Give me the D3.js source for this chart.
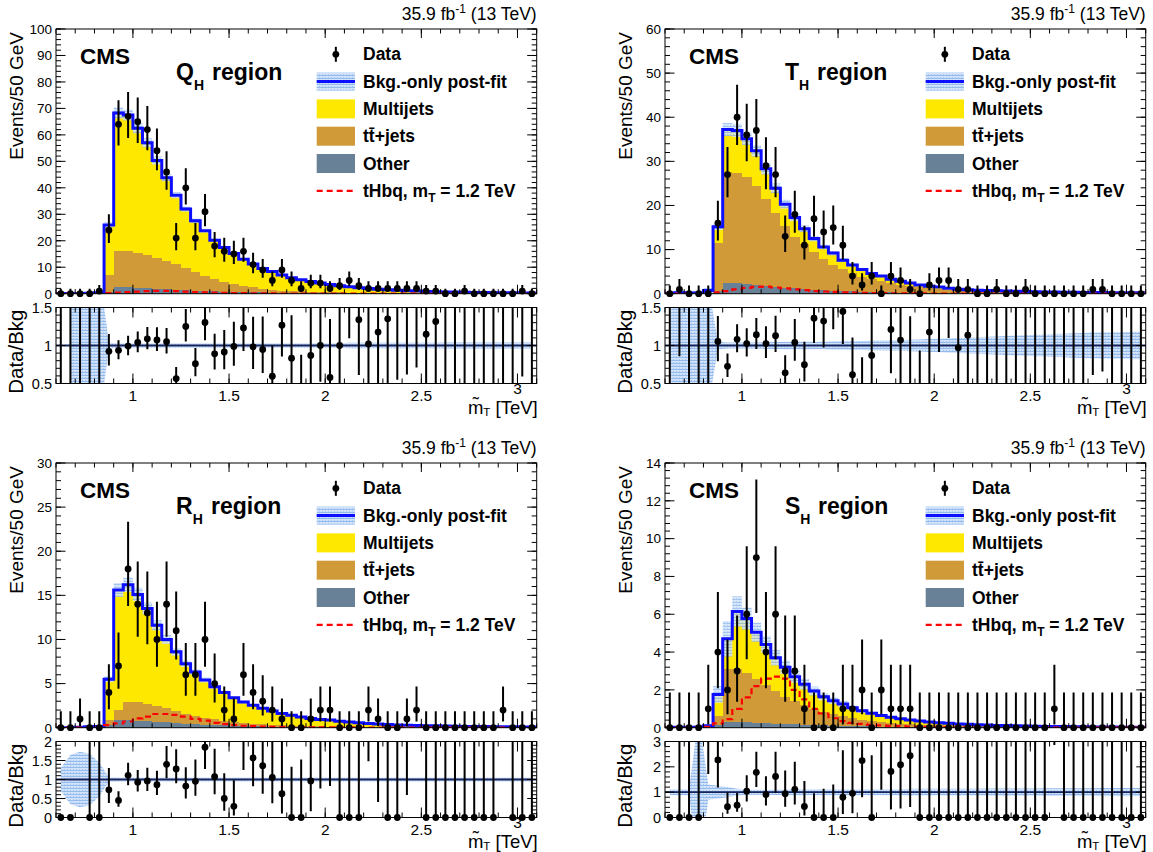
<!DOCTYPE html>
<html><head><meta charset="utf-8">
<script src="https://cdn.jsdelivr.net/npm/d3@7"></script>
<style>
body{margin:0;background:#fff;}
text{font-family:"Liberation Sans",Arial,Helvetica,sans-serif;fill:#000;}
</style></head>
<body><svg id="c" width="1153" height="852"></svg>
<script>
// ---------------- data ----------------
const binLow = 0.6, binWidth = 0.05, nBins = 50;
const xTickLabels = ["1", "1.5", "2", "2.5", "3"];
const legendLabels = ["Data", "Bkg.-only post-fit", "Multijets", "tt\u0304+jets", "Other", "tHbq, m"];

// Q_H region
const qhData = [0,0,0,0,1, 24,64,67,65,62, 54,46,21,40,21, 31,18,16,15,16, 11,9,5,9,5, 2,4,4,2,3, 5,3,2,2,2, 2,2,2,1,1, 0,0,1,0,0, 0,0,0,1,0];
const qhOther = [0,0,0,0,0.05, 0.8,2.6,2.5,2.3,2.1, 1.9,1.7,1.5,1.35,1.2, 1.05,0.92,0.8,0.7,0.62, 0.54,0.47,0.41,0.36,0.32, 0.28,0.25,0.22,0.2,0.18, 0.16,0.14,0.12,0.11,0.1, 0.09,0.08,0.07,0.06,0.05, 0.05,0.04,0.04,0.03,0.03, 0.03,0.02,0.02,0.02,0.02];
const qhTtbar = [0,0,0,0,0.1, 6.3,13.7,13.5,13.0,12.4, 11.7,10.8,9.6,8.45,7.1, 5.75,4.78,3.7,3.0,2.38, 1.86,1.43,1.09,0.84,0.68, 0.57,0.5,0.43,0.35,0.3, 0.26,0.23,0.2,0.17,0.15, 0.13,0.12,0.1,0.09,0.08, 0.07,0.07,0.06,0.06,0.05, 0.04,0.05,0.04,0.03,0.03];
const qhMultijets = [0.05,0.08,0.1,0.15,0.25, 18.9,52.0,51.5,47.2,42.5, 36.7,31.3,26.1,22.2,19.3, 17.0,14.5,13.0,11.5,10.0, 8.8,7.6,6.9,5.9,5.0, 4.45,3.85,3.35,2.9,2.52, 2.18,1.87,1.64,1.42,1.23, 1.08,0.95,0.83,0.72,0.63, 0.56,0.49,0.44,0.39,0.35, 0.32,0.28,0.26,0.24,0.21];
const qhSignal = [0,0,0,0,0.05, 0.2,0.4,0.6,0.8,0.95, 1.05,1.05,0.95,0.8,0.65, 0.5,0.4,0.32,0.26,0.2, 0.16,0.13,0.1,0.08,0.07, 0.06,0.05,0.04,0.04,0.03, 0.03,0.02,0.02,0.02,0.02, 0.01,0.01,0.01,0.01,0.01, 0.01,0.01,0.01,0.01,0.01, 0.01,0.01,0.01,0.01,0.01];
const qhRelUnc = [0,2,2,2,1, 0.035,0.03,0.03,0.03,0.03, 0.03,0.03,0.03,0.03,0.03, 0.03,0.03,0.03,0.03,0.03, 0.03,0.03,0.03,0.03,0.03, 0.03,0.03,0.03,0.03,0.03, 0.035,0.035,0.035,0.035,0.035, 0.035,0.035,0.035,0.035,0.035, 0.04,0.04,0.04,0.04,0.04, 0.04,0.04,0.04,0.04,0.04];

// T_H region
const thData = [0,1,0,0,0, 16,27,40,36,37, 29,27,13,18,11, 17,14,15,11,4, 2,4,0,4,3, 1,0,2,3,3, 1,1,0,0,1, 0,0,1,0,0, 0,0,0,0,1, 1,0,0,0,0];
const thOther = [0,0,0,0,0.05, 0.7,2.5,2.4,2.2,2.0, 1.8,1.6,1.4,1.2,1.05, 0.9,0.78,0.68,0.58,0.5, 0.43,0.37,0.32,0.28,0.24, 0.21,0.18,0.16,0.14,0.12, 0.1,0.09,0.08,0.07,0.06, 0.06,0.05,0.05,0.04,0.04, 0.04,0.03,0.03,0.03,0.03, 0.02,0.02,0.02,0.02,0.02];
const thTtbar = [0,0,0,0,0.45, 10.9,25.1,24.9,24.3,22.4, 19.7,16.6,13.9,11.7,10.15, 8.5,7.02,5.82,4.92,4.1, 3.37,2.93,2.48,2.07,1.76, 1.49,1.27,1.09,0.96,0.83, 0.7,0.59,0.52,0.46,0.41, 0.36,0.32,0.28,0.26,0.23, 0.21,0.2,0.18,0.16,0.15, 0.15,0.14,0.13,0.12,0.11];
const thMultijets = [0.1,0.2,0.15,0.15,0.2, 3.6,9.6,9.7,8.6,8.0, 6.8,5.7,5.0,4.4,3.5, 3.1,2.8,2.7,2.1,1.9, 1.7,1.3,1.2,0.95,0.8, 0.7,0.55,0.45,0.4,0.3, 0.23,0.2,0.2,0.19,0.18, 0.18,0.17,0.16,0.15,0.14, 0.13,0.12,0.11,0.11,0.1, 0.09,0.08,0.08,0.07,0.07];
const thSignal = [0,0,0,0,0.05, 0.3,0.6,1.0,1.3,1.55, 1.6,1.4,1.2,1.0,0.8, 0.6,0.5,0.4,0.3,0.25, 0.2,0.16,0.13,0.1,0.08, 0.07,0.06,0.05,0.04,0.04, 0.03,0.03,0.02,0.02,0.02, 0.02,0.01,0.01,0.01,0.01, 0.01,0.01,0.01,0.01,0.01, 0.01,0.01,0.01,0.01,0.01];
const thRelUnc = [0.05,3,3,3,0.8, 0.05,0.04,0.04,0.04,0.04, 0.045,0.045,0.05,0.05,0.05, 0.05,0.05,0.055,0.055,0.06, 0.06,0.065,0.065,0.07,0.07, 0.075,0.08,0.085,0.09,0.095, 0.1,0.105,0.11,0.115,0.12, 0.125,0.13,0.135,0.14,0.145, 0.15,0.155,0.16,0.165,0.17, 0.17,0.175,0.175,0.18,0.18];

// R_H region
const rhData = [0,0,1,0,0, 4,7,18,14,13, 10,14,11,6,6, 10,5,2,1,6, 4,3,2,1,0, 0,1,2,2,0, 0,0,2,1,0, 0,1,2,0,0, 0,0,0,0,0, 0,2,0,0,0];
const rhOther = [0,0,0,0,0, 0.3,0.85,0.85,0.8,0.75, 0.68,0.6,0.53,0.46,0.4, 0.35,0.3,0.26,0.22,0.19, 0.16,0.14,0.12,0.1,0.09, 0.08,0.07,0.06,0.05,0.05, 0.04,0.04,0.03,0.03,0.03, 0.03,0.02,0.02,0.02,0.02, 0.02,0.02,0.02,0.02,0.02, 0.02,0.02,0.02,0.02,0.02];
const rhTtbar = [0,0,0,0,0.05, 0.6,1.15,2.05,2.1,1.95, 1.77,1.6,1.37,1.14,0.95, 0.75,0.65,0.54,0.43,0.34, 0.29,0.24,0.2,0.17,0.14, 0.12,0.1,0.09,0.08,0.06, 0.06,0.05,0.05,0.04,0.04, 0.03,0.04,0.03,0.03,0.03, 0.02,0.02,0.02,0.02,0.02, 0.02,0.02,0.02,0.02,0.02];
const rhMultijets = [0,0,0.05,0.1,0.1, 4.6,13.6,13.3,12.2,10.8, 9.15,7.8,6.7,5.65,4.95, 4.3,3.7,3.2,2.75,2.37, 2.1,1.82,1.58,1.33,1.17, 1.02,0.87,0.78,0.73,0.61, 0.55,0.48,0.4,0.35,0.3, 0.26,0.23,0.21,0.18,0.16, 0.15,0.13,0.11,0.1,0.09, 0.08,0.07,0.06,0.05,0.04];
const rhSignal = [0,0,0,0,0.05, 0.3,0.5,0.7,1.05,1.25, 1.55,1.55,1.45,1.25,1.0, 0.8,0.55,0.4,0.3,0.22, 0.17,0.13,0.1,0.08,0.07, 0.06,0.05,0.04,0.04,0.03, 0.03,0.02,0.02,0.02,0.02, 0.01,0.01,0.01,0.01,0.01, 0.01,0.01,0.01,0.01,0.01, 0.01,0.01,0.01,0.01,0.01];
const rhRelUnc = [0.3,0.65,0.73,0.68,0.45, 0.06,0.05,0.05,0.05,0.05, 0.05,0.05,0.05,0.05,0.05, 0.05,0.05,0.05,0.05,0.05, 0.05,0.05,0.05,0.05,0.05, 0.05,0.05,0.05,0.05,0.05, 0.05,0.05,0.05,0.05,0.05, 0.05,0.05,0.05,0.05,0.05, 0.055,0.055,0.055,0.055,0.055, 0.055,0.055,0.055,0.055,0.055];

// S_H region
const shData = [0,0,0,0,1, 4,2,3,6,9, 4,6,3,3,1, 0,0,0,1,1, 2,0,2,1,1, 1,0,0,0,0, 0,0,0,0,0, 0,0,0,0,0, 1,0,0,0,0, 0,0,0,0,0];
const shOther = [0,0,0,0,0.02, 0.15,0.3,0.3,0.28,0.26, 0.24,0.22,0.2,0.18,0.16, 0.14,0.12,0.11,0.1,0.09, 0.08,0.07,0.06,0.05,0.05, 0.04,0.04,0.03,0.03,0.03, 0.02,0.02,0.02,0.02,0.01, 0.01,0.01,0.01,0.01,0.01, 0.01,0.01,0.01,0.01,0.01, 0.01,0.01,0.01,0.01,0.01];
const shTtbar = [0,0,0,0,0.02, 0.45,2.8,2.8,2.62,2.34, 2.01,1.73,1.45,1.22,1.02, 0.84,0.7,0.59,0.5,0.41, 0.34,0.29,0.24,0.21,0.17, 0.15,0.12,0.11,0.09,0.07, 0.07,0.06,0.05,0.04,0.04, 0.04,0.03,0.03,0.02,0.02, 0.02,0.02,0.01,0.01,0.01, 0.01,0.01,0.01,0.01,0.01];
const shMultijets = [0,0.02,0.02,0.03,0.06, 1.16,1.6,3.05,2.87,2.45, 2.15,1.75,1.55,1.3,1.12, 0.96,0.82,0.73,0.65,0.55, 0.47,0.4,0.35,0.29,0.26, 0.22,0.19,0.16,0.14,0.13, 0.11,0.1,0.09,0.08,0.07, 0.06,0.06,0.05,0.05,0.04, 0.03,0.03,0.03,0.03,0.02, 0.02,0.02,0.01,0.01,0.01];
const shSignal = [0,0,0,0,0.05, 0.23,0.45,1.0,1.6,2.2, 2.6,2.7,2.6,2.0,1.5, 1.0,0.75,0.5,0.35,0.25, 0.2,0.15,0.12,0.1,0.08, 0.06,0.05,0.04,0.03,0.03, 0.02,0.02,0.02,0.02,0.01, 0.01,0.01,0.01,0.01,0.01, 0.01,0.01,0.01,0.01,0.01, 0.01,0.01,0.01,0.01,0.01];
const shRelUnc = [0.12,0.12,0.12,3.0,0.3, 0.25,0.2,0.13,0.1,0.1, 0.1,0.11,0.11,0.12,0.12, 0.12,0.12,0.12,0.12,0.12, 0.12,0.12,0.12,0.12,0.12, 0.13,0.13,0.13,0.13,0.13, 0.13,0.13,0.13,0.14,0.14, 0.14,0.14,0.14,0.14,0.15, 0.15,0.15,0.15,0.15,0.15, 0.16,0.16,0.16,0.16,0.16];

// ---------------- styles / layout ----------------
const COL = {mj:"#ffe800", tt:"#cf9a37", other:"#688196", blue:"#0d0dff", red:"#ff0000", line1:"#16245e"};
const FL = 56, FR = 536.7, MT = 29, MB = 293.7, RT = 307.5, RB = 383.5;

const panels = [
  {id:"q", letter:"Q", ox:0,   oy:0,   data:qhData, other:qhOther, ttbar:qhTtbar, mj:qhMultijets, sig:qhSignal, unc:qhRelUnc,
   yMax:100, yMajor:10, yMinor:2, rMin:0.5, rMax:1.5, rMajor:0.5, rMinor:0.1, regX:212},
  {id:"t", letter:"T", ox:609, oy:0,   data:thData, other:thOther, ttbar:thTtbar, mj:thMultijets, sig:thSignal, unc:thRelUnc,
   yMax:60, yMajor:10, yMinor:2, rMin:0.5, rMax:1.5, rMajor:0.5, rMinor:0.1, regX:208},
  {id:"r", letter:"R", ox:0,   oy:434, data:rhData, other:rhOther, ttbar:rhTtbar, mj:rhMultijets, sig:rhSignal, unc:rhRelUnc,
   yMax:30, yMajor:5, yMinor:1, rMin:0, rMax:2, rMajor:0.5, rMinor:0.1, regX:211},
  {id:"s", letter:"S", ox:609, oy:434, data:shData, other:shOther, ttbar:shTtbar, mj:shMultijets, sig:shSignal, unc:shRelUnc,
   yMax:14, yMajor:2, yMinor:0.4, rMin:0, rMax:3, rMajor:1, rMinor:0.2, regX:209}
];

const svg = d3.select("#c");
const defs = svg.append("defs");
const pat = defs.append("pattern").attr("id","hatch").attr("patternUnits","userSpaceOnUse").attr("width",3).attr("height",3);
pat.append("rect").attr("width",3).attr("height",3).attr("fill","#d2e3f9");
pat.append("rect").attr("width",3).attr("height",1).attr("fill","#93bbee");
pat.append("rect").attr("x",1).attr("y",2).attr("width",1).attr("height",1).attr("fill","#a9c9f2");

function steps(a,b,s){const out=[];const n=Math.round((b-a)/s);for(let k=0;k<=n;k++)out.push(+(a+k*s).toFixed(6));return out;}
function fmt(v){return String(+v.toFixed(3));}
// Poisson (Garwood-like) interval approximation
function poisLo(n){ if(n<=0) return 0; const t=1-1/(9*n)-1/(3*Math.sqrt(n)); return n*t*t*t; }
function poisHi(n){ return n+1+Math.sqrt(n+0.75); }

function drawPanel(p){
  const g = svg.append("g").attr("transform",`translate(${p.ox},${p.oy})`);
  const x = d3.scaleLinear().domain([binLow, binLow+nBins*binWidth]).range([FL,FR]);
  const y = d3.scaleLinear().domain([0,p.yMax]).range([MB,MT]);
  const yr = d3.scaleLinear().domain([p.rMin,p.rMax]).range([RB,RT]);

  const bins = d3.range(nBins).map(i=>{
    const o=p.other[i], t=p.ttbar[i], m=p.mj[i];
    return {i, lo:binLow+i*binWidth, c:binLow+(i+0.5)*binWidth, o, ot:o+t, tot:o+t+m, sig:p.sig[i], d:p.data[i], u:p.unc[i]};
  });
  const last = bins[nBins-1];
  const stepPts = bins.concat([Object.assign({},last,{lo:last.lo+binWidth})]);

  defs.append("clipPath").attr("id","cm"+p.id).append("rect").attr("x",FL).attr("y",MT).attr("width",FR-FL).attr("height",MB-MT);
  defs.append("clipPath").attr("id","cr"+p.id).append("rect").attr("x",FL).attr("y",RT).attr("width",FR-FL).attr("height",RB-RT);

  // ---- main pad ----
  const mg = g.append("g").attr("clip-path",`url(#cm${p.id})`);
  const area = (f0,f1)=>d3.area().curve(d3.curveStepAfter).x(d=>x(d.lo)).y0(d=>y(f0(d))).y1(d=>y(f1(d)));
  mg.append("path").datum(stepPts).attr("d",area(d=>d.ot,d=>d.tot)).attr("fill",COL.mj).attr("shape-rendering","crispEdges");
  mg.append("path").datum(stepPts).attr("d",area(d=>d.o,d=>d.ot)).attr("fill",COL.tt).attr("shape-rendering","crispEdges");
  mg.append("path").datum(stepPts).attr("d",area(d=>0,d=>d.o)).attr("fill",COL.other).attr("shape-rendering","crispEdges");
  mg.selectAll("rect.unc").data(bins.filter(d=>d.tot>0)).join("rect").attr("class","unc")
    .attr("x",d=>x(d.lo)).attr("width",x(binLow+binWidth)-x(binLow))
    .attr("y",d=>y(d.tot*(1+d.u))).attr("height",d=>y(Math.max(0,d.tot*(1-d.u)))-y(d.tot*(1+d.u)))
    .attr("fill","url(#hatch)").attr("opacity",0.85);
  const stepLine = f=>d3.line().curve(d3.curveStepAfter).x(d=>x(d.lo)).y(d=>y(f(d)));
  mg.append("path").datum(stepPts).attr("d",stepLine(d=>d.tot)).attr("fill","none").attr("stroke",COL.blue).attr("stroke-width",3);
  mg.append("path").datum(stepPts).attr("d",stepLine(d=>d.sig)).attr("fill","none").attr("stroke",COL.red).attr("stroke-width",2.2).attr("stroke-dasharray","6,4");
  // data error bars
  mg.selectAll("line.err").data(bins).join("line").attr("class","err")
    .attr("x1",d=>x(d.c)).attr("x2",d=>x(d.c))
    .attr("y1",d=>y(poisLo(d.d))).attr("y2",d=>y(poisHi(d.d)))
    .attr("stroke","#000").attr("stroke-width",2);
  g.selectAll("circle.pt").data(bins).join("circle").attr("class","pt")
    .attr("cx",d=>x(d.c)).attr("cy",d=>y(d.d)).attr("r",3.4).attr("fill","#000");

  // ---- ratio pad ----
  const rg = g.append("g").attr("clip-path",`url(#cr${p.id})`);
  rg.append("path").datum(bins).attr("d",d3.area().defined(d=>d.u>0).x(d=>x(d.c)).y0(d=>yr(1-d.u)).y1(d=>yr(1+d.u)))
    .attr("fill","url(#hatch)");
  rg.append("line").attr("x1",FL).attr("x2",FR).attr("y1",yr(1)).attr("y2",yr(1)).attr("stroke",COL.line1).attr("stroke-width",1.8);
  const rat = bins.map(d=>{
    if(d.tot<=0) return {c:d.c, r:0, lo:0, hi:0, noerr:true};
    return {c:d.c, r:d.d/d.tot, lo:poisLo(d.d)/d.tot, hi:poisHi(d.d)/d.tot, noerr:false};
  });
  rg.selectAll("line.rerr").data(rat.filter(d=>!d.noerr)).join("line").attr("class","rerr")
    .attr("x1",d=>x(d.c)).attr("x2",d=>x(d.c))
    .attr("y1",d=>yr(Math.max(d.lo,p.rMin-1))).attr("y2",d=>yr(Math.min(d.hi,p.rMax+1)))
    .attr("stroke","#000").attr("stroke-width",2);
  g.selectAll("circle.rpt").data(rat.filter(d=>d.r>=p.rMin-1e-9 && d.r<=p.rMax+1e-9)).join("circle").attr("class","rpt")
    .attr("cx",d=>x(d.c)).attr("cy",d=>yr(d.r)).attr("r",3.4).attr("fill","#000");

  // ---- frames and ticks ----
  const fr = g.append("g").attr("stroke","#000").attr("stroke-width",1).attr("fill","none");
  fr.append("rect").attr("x",FL).attr("y",MT).attr("width",FR-FL).attr("height",MB-MT);
  fr.append("rect").attr("x",FL).attr("y",RT).attr("width",FR-FL).attr("height",RB-RT);
  const yTicks=(sc,vals,len,)=>vals.forEach(v=>{
    fr.append("line").attr("x1",FL).attr("x2",FL+len).attr("y1",sc(v)).attr("y2",sc(v));
    fr.append("line").attr("x1",FR).attr("x2",FR-len).attr("y1",sc(v)).attr("y2",sc(v));
  });
  const xTicks=(t,b,vals,len)=>vals.forEach(v=>{
    fr.append("line").attr("x1",x(v)).attr("x2",x(v)).attr("y1",b).attr("y2",b-len);
    fr.append("line").attr("x1",x(v)).attr("x2",x(v)).attr("y1",t).attr("y2",t+len);
  });
  yTicks(y, steps(0,p.yMax,p.yMinor), 5);
  yTicks(y, steps(0,p.yMax,p.yMajor), 9.5);
  xTicks(MT, MB, steps(0.6,3.1,0.1), 4.5);
  xTicks(MT, MB, steps(1,3,0.5), 9);
  yTicks(yr, steps(p.rMin,p.rMax,p.rMinor), 5);
  yTicks(yr, steps(p.rMin,p.rMax,p.rMajor), 9.5);
  xTicks(RT, RB, steps(0.6,3.1,0.1), 5);
  xTicks(RT, RB, steps(1,3,0.5), 10);

  // tick labels
  g.selectAll("text.yl").data(steps(0,p.yMax,p.yMajor)).join("text").attr("class","yl")
    .attr("x",FL-4).attr("y",d=>y(d)+4.8).attr("text-anchor","end").attr("font-size",13.5).text(fmt);
  g.selectAll("text.rl").data(steps(p.rMin,p.rMax,p.rMajor)).join("text").attr("class","rl")
    .attr("x",FL-4).attr("y",d=>yr(d)+5.2).attr("text-anchor","end").attr("font-size",14.5).text(fmt);
  g.selectAll("text.xl").data(xTickLabels).join("text").attr("class","xl")
    .attr("x",d=>x(+d)).attr("y",(d,k)=>k===xTickLabels.length-1?RB+10:RB+17).attr("text-anchor","middle").attr("font-size",15.5).text(d=>d);

  // axis titles
  g.append("text").attr("transform",`translate(23,${MT+3}) rotate(-90)`).attr("text-anchor","end").attr("font-size",19).text("Events/50 GeV");
  g.append("text").attr("transform",`translate(23,${RT+2}) rotate(-90)`).attr("text-anchor","end").attr("font-size",20.5).text("Data/Bkg");
  const xt = g.append("text").attr("x",FR+1).attr("y",RB+30).attr("text-anchor","end").attr("font-size",18.5);
  xt.append("tspan").text("m\u0303");
  xt.append("tspan").attr("font-size",11.5).attr("dy",2).text("T");
  xt.append("tspan").attr("dy",-2).text(" [TeV]");

  // lumi
  const lt = g.append("text").attr("x",FR).attr("y",20).attr("text-anchor","end").attr("font-size",17.5);
  lt.append("tspan").text("35.9 fb");
  lt.append("tspan").attr("font-size",12).attr("dy",-7).text("-1");
  lt.append("tspan").attr("dy",7).text(" (13 TeV)");

  // CMS and region
  g.append("text").attr("x",80).attr("y",64).attr("font-size",22.5).attr("font-weight","bold").text("CMS");
  const rt = g.append("text").attr("x",176).attr("y",80).attr("font-size",23).attr("font-weight","bold");
  rt.append("tspan").text(p.letter);
  rt.append("tspan").attr("font-size",14).attr("dy",10).text("H");
  rt.append("tspan").attr("dy",-10).attr("x",p.regX).text("region");

  // legend
  const lx0 = 316.7, lw = 38.3, ly = [54.3,81.6,108.9,136.2,163.5,190.8], tx = 363;
  const lg = g.append("g");
  lg.append("line").attr("x1",lx0+lw/2).attr("x2",lx0+lw/2).attr("y1",ly[0]-7.5).attr("y2",ly[0]+7.5).attr("stroke","#000").attr("stroke-width",2);
  lg.append("circle").attr("cx",lx0+lw/2).attr("cy",ly[0]).attr("r",3.4).attr("fill","#000");
  lg.append("rect").attr("x",lx0).attr("y",ly[1]-9).attr("width",lw).attr("height",18).attr("fill","url(#hatch)");
  lg.append("line").attr("x1",lx0).attr("x2",lx0+lw).attr("y1",ly[1]).attr("y2",ly[1]).attr("stroke",COL.blue).attr("stroke-width",3);
  [[2,COL.mj],[3,COL.tt],[4,COL.other]].forEach(([k,c])=>{
    lg.append("rect").attr("x",lx0).attr("y",ly[k]-9.5).attr("width",lw).attr("height",19).attr("fill",c);
  });
  lg.append("line").attr("x1",lx0).attr("x2",lx0+lw).attr("y1",ly[5]).attr("y2",ly[5]).attr("stroke",COL.red).attr("stroke-width",2.2).attr("stroke-dasharray","6,4");
  legendLabels.forEach((s,k)=>{
    const t = lg.append("text").attr("x",tx).attr("y",ly[k]+6).attr("font-size",17.5).attr("font-weight","bold");
    t.append("tspan").text(s);
    if(k===5){
      t.append("tspan").attr("font-size",12).attr("dy",5).text("T");
      t.append("tspan").attr("dy",-5).text(" = 1.2 TeV");
    }
  });
}
panels.forEach(drawPanel);
</script>
</body></html>
